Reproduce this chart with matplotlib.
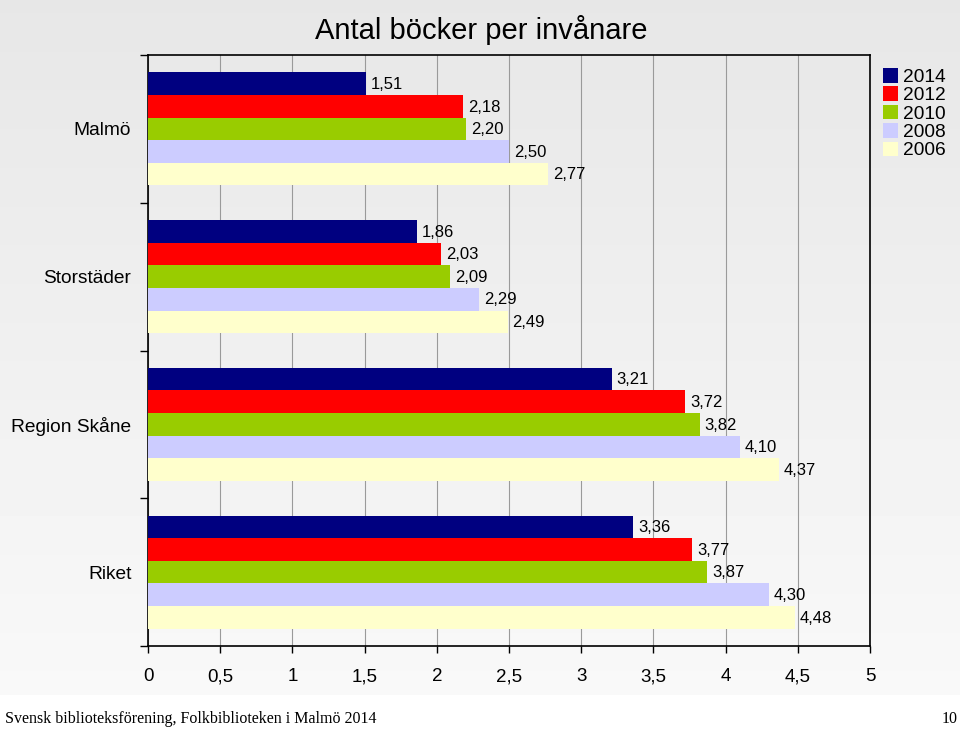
import matplotlib
matplotlib.use('Agg')
import matplotlib.pyplot as plt
import numpy as np
from matplotlib.patches import Patch

plt.rcParams['font.family'] = ['Liberation Sans', 'DejaVu Sans']

categories = ['Malmö', 'Storstäder', 'Region Skåne', 'Riket']
years = ['2014', '2012', '2010', '2008', '2006']
colors = ['#000080', '#ff0000', '#99cc00', '#ccccff', '#ffffcc']
values = {
    '2014': [1.51, 1.86, 3.21, 3.36],
    '2012': [2.18, 2.03, 3.72, 3.77],
    '2010': [2.20, 2.09, 3.82, 3.87],
    '2008': [2.50, 2.29, 4.10, 4.30],
    '2006': [2.77, 2.49, 4.37, 4.48],
}
xticks = [0, 0.5, 1, 1.5, 2, 2.5, 3, 3.5, 4, 4.5, 5]
xticklabels = ['0', '0,5', '1', '1,5', '2', '2,5', '3', '3,5', '4', '4,5', '5']

fig = plt.figure(figsize=(9.6, 7.3), dpi=100)

# background gradient (grey at top, white footer strip)
bg = fig.add_axes([0, 0, 1, 1], zorder=-10)
h_px = 730
grad = np.ones((h_px, 2))
split = 695
grad[:split, :] = np.linspace(0.905, 0.975, split)[:, None]
bg.imshow(grad, cmap='gray', vmin=0, vmax=1, aspect='auto', extent=[0, 1, 0, 1])
bg.axis('off')

ax = fig.add_axes([148 / 960, 1 - 646 / 730, (870 - 148) / 960, (646 - 55) / 730])
ax.set_facecolor('none')

y = np.arange(len(categories))
bh = 0.153
for i, (yr, col) in enumerate(zip(years, colors)):
    ys = y + (i - 2) * bh
    ax.barh(ys, values[yr], height=bh, color=col, zorder=3)
    for yy, v in zip(ys, values[yr]):
        ax.text(v + 0.035, yy + 0.005, f'{v:.2f}'.replace('.', ','), va='center', ha='left',
                fontsize=12, zorder=4)

ax.set_xlim(0, 5)
ax.set_ylim(3.5, -0.5)
ax.tick_params(axis='x', direction='out', length=5, width=1, pad=11)
ax.set_xticks(xticks)
ax.set_xticklabels(xticklabels, fontsize=13.5)
ax.tick_params(axis='y', which='major', length=0, pad=12)
ax.set_yticks(y)
ax.set_yticklabels(categories, fontsize=13.8)
ax.set_yticks(np.arange(-0.5, 4, 1), minor=True)
ax.tick_params(axis='y', which='minor', length=6, width=1, direction='out')
ax.grid(axis='x', color='#9a9a9a', linewidth=0.8, zorder=0)
for s in ax.spines.values():
    s.set_color('black')
    s.set_linewidth(1.2)

fig.text(481 / 960, 1 - 30 / 730, 'Antal böcker per invånare', ha='center', va='center', fontsize=21)

handles = [Patch(facecolor=c, edgecolor='none') for c in colors]
fig.legend(handles, years, loc='upper left', bbox_to_anchor=(883 / 960, 1 - 68 / 730), frameon=False,
           fontsize=13.8, handlelength=0.8, handleheight=0.8, handletextpad=0.25, labelspacing=0.02,
           borderaxespad=0, borderpad=0)

fig.text(5 / 960, 1 - 719 / 730, 'Svensk biblioteksförening, Folkbiblioteken i Malmö 2014',
         family='Liberation Serif', fontsize=11.5, va='center', ha='left')
fig.text(958 / 960, 1 - 719 / 730, '10', family='Liberation Serif', fontsize=11.5, va='center', ha='right')

fig.savefig('out.png', dpi=100)
